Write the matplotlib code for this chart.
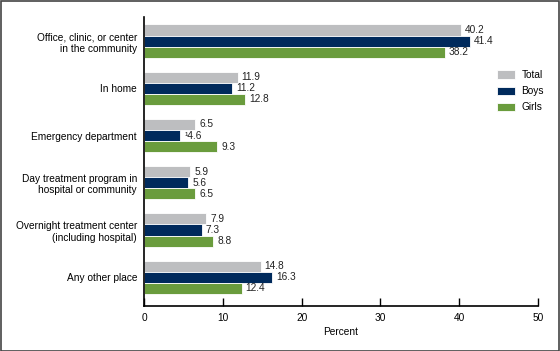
import matplotlib
matplotlib.use("Agg")
import matplotlib.pyplot as plt
from matplotlib.patches import Rectangle
import numpy as np

categories = ["Office, clinic, or center\nin the community", "In home",
              "Emergency department", "Day treatment program in\nhospital or community",
              "Overnight treatment center\n(including hospital)", "Any other place"]
total = [40.2, 11.9, 6.5, 5.9, 7.9, 14.8]
boys = [41.4, 11.2, 4.6, 5.6, 7.3, 16.3]
girls = [38.2, 12.8, 9.3, 6.5, 8.8, 12.4]
boys_labels = ["41.4", "11.2", "\u00b94.6", "5.6", "7.3", "16.3"]
series_names = ["Total", "Boys", "Girls"]
colors = ["#bdbec0", "#002a5c", "#6a9c3d"]
xticks = [0, 10, 20, 30, 40, 50]

plt.rcParams['font.family'] = ['Liberation Sans', 'DejaVu Sans']

fig = plt.figure(figsize=(5.6, 3.51), dpi=100)
ax = fig.add_axes([144/560, 1-306/351, (538-144)/560, (306-17)/351])

y = np.arange(len(categories))
h = 0.235
series = [total, boys, girls]
for i, (vals, c, name) in enumerate(zip(series, colors, series_names)):
    pos = y + (i - 1) * h
    ax.barh(pos, vals, height=h, color=c, edgecolor="white", linewidth=0.6, label=name)
    labels = boys_labels if i == 1 else [f"{v:.1f}" for v in vals]
    for p, v, lab in zip(pos, vals, labels):
        ax.text(v + 0.5, p, lab, va="center", ha="left", fontsize=7.3, color="#222222")

ax.set_xlim(0, 50)
ax.set_ylim(5.61, -0.51)
ax.set_xticks(xticks)
ax.set_xticklabels([str(t) for t in xticks], fontsize=7.3)
ax.set_yticks(y)
ax.set_yticklabels(categories, fontsize=7.3, ha="right")
ax.tick_params(axis="y", length=0, pad=5)
ax.tick_params(axis="x", direction="in", length=6, width=1, pad=5, color="black")
for s in ["top", "right"]:
    ax.spines[s].set_visible(False)
for s in ["left", "bottom"]:
    ax.spines[s].set_linewidth(1.2)
ax.set_xlabel("Percent", fontsize=7.3, labelpad=3)

leg = ax.legend(loc="upper left", bbox_to_anchor=(488/560, 1-61/351), bbox_transform=fig.transFigure,
                frameon=False, fontsize=7.3, handlelength=1.8, handleheight=0.9,
                labelspacing=0.6, handletextpad=0.6)

fig.patches.append(Rectangle((0.5/560, 0.5/351), 1-1.5/560, 1-1.5/351, transform=fig.transFigure,
                             fill=False, edgecolor="#444444", linewidth=1.2))

fig.savefig("out.png", dpi=100)
